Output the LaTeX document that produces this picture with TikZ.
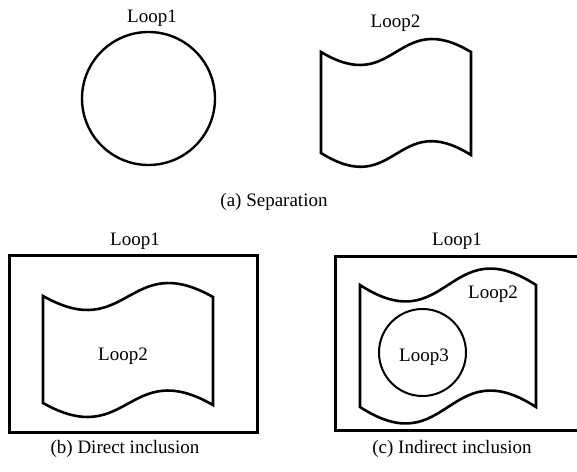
\documentclass[tikz,border=0pt]{standalone}
\usepackage{fontspec}
\setmainfont{Liberation Serif}
\usetikzlibrary{positioning}

\begin{document}
\begin{tikzpicture}[x=1pt, y=-1pt,
    % Styles
    lbl/.style={font=\fontsize{19}{22}\selectfont, anchor=base, inner sep=0pt},
    loopcircle/.style={draw, circle, line width=2.4pt, inner sep=0pt},
    flag/.style={draw, line width=2.6pt, line join=miter},
    frame/.style={draw, line width=3pt}
]

% Picture size
\clip (0,0) rectangle (577,471);
\fill[white] (0,0) rectangle (577,471);

% (a) Separation
\node[loopcircle, minimum size=133pt] (sepA) at (148.5,98.5) {};
\node[lbl] (sepAlbl) at (152,22) {Loop1};
\draw[flag] (321,52) .. controls (396,97) and (396,7) .. (471,52)
    -- (471,155) .. controls (396,108) and (396,200) .. (321,153) -- cycle;
\node[lbl] (sepBlbl) at (395.5,27) {Loop2};
\node[lbl] (capA) at (274,206) {(a) Separation};

% (b) Direct inclusion
\draw[frame] (9,255) rectangle (257,432);
\node[lbl] (dirAlbl) at (135,245) {Loop1};
\draw[flag] (43,296) .. controls (128,344) and (128,249) .. (213,297)
    -- (213,405) .. controls (128,356) and (128,451) .. (43,403) -- cycle;
\node[lbl] (dirBlbl) at (123,360) {Loop2};
\node[lbl] (capB) at (125,453) {(b) Direct inclusion};

% (c) Indirect inclusion
\draw[frame] (335,256) rectangle (590,430);
\node[lbl] (indAlbl) at (457,245) {Loop1};
\draw[flag] (360,285) .. controls (448,342) and (448,228) .. (536,285)
    -- (536,407) .. controls (448,350) and (448,464) .. (360,407) -- cycle;
\node[lbl] (indBlbl) at (493,298) {Loop2};
\node[loopcircle, line width=2pt, minimum size=87pt] (indC) at (422.5,352.5) {};
\node[lbl] (indClbl) at (424,361.5) {Loop3};
\node[lbl] (capC) at (452,453) {(c) Indirect inclusion};

\end{tikzpicture}
\end{document}
